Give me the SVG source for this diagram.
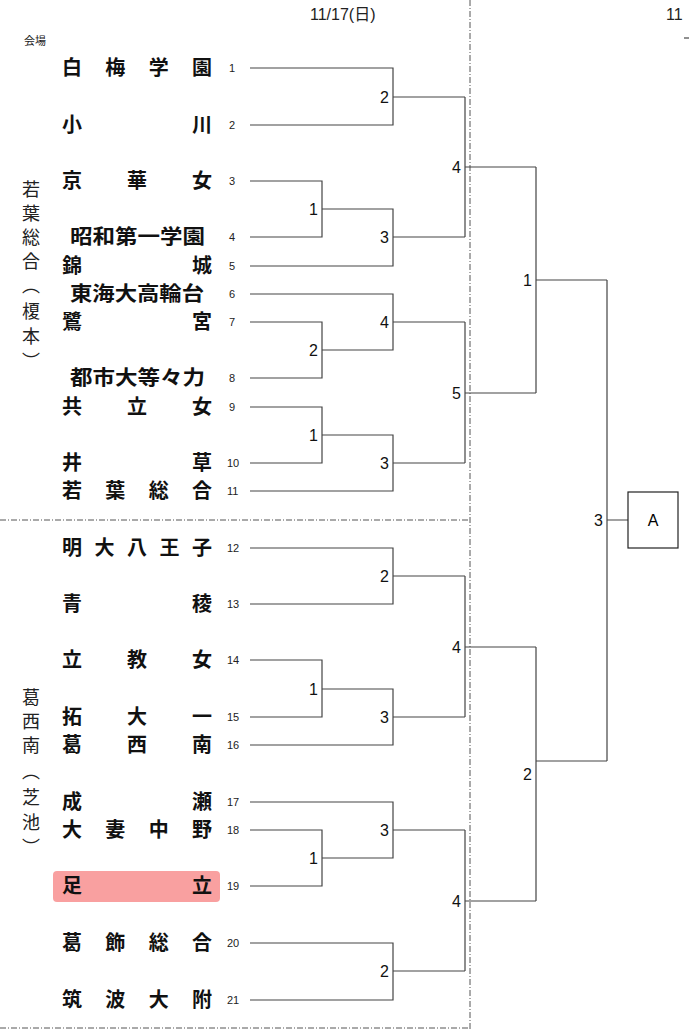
<svg xmlns="http://www.w3.org/2000/svg" width="689" height="1031" viewBox="0 0 689 1031">
<style>
.n{font-family:"Noto Sans CJK JP","Noto Sans",sans-serif;font-size:20px;font-weight:bold;fill:#111}
.s{font-family:"Liberation Sans",sans-serif;font-size:11px;fill:#222}
.r{font-family:"Liberation Sans",sans-serif;font-size:16px;fill:#111;text-anchor:end}
.v{font-family:"Noto Sans CJK JP",sans-serif;font-size:18px;fill:#222}
.c path{fill:none;stroke:#444;stroke-width:1.2}
.d{stroke:#555;stroke-width:1;stroke-dasharray:6,2,1,2;fill:none}
</style>
<rect width="689" height="1031" fill="#fff"/>
<text x="310" y="20" style="font-family:'Liberation Sans','Noto Sans CJK JP',sans-serif;font-size:16px;fill:#222">11/17(日)</text>
<text x="666" y="20" style="font-family:'Liberation Sans',sans-serif;font-size:16px;fill:#222">11</text>
<line x1="684" y1="38" x2="689" y2="38" stroke="#222"/>
<text x="24" y="45" style="font-family:'Noto Sans CJK JP',sans-serif;font-size:11px;fill:#222">会場</text>
<path class="d" d="M470 0V1031M0 520H470M0 1028H470"/>
<g id="venue1" class="v"><text x="22" y="196">若</text><text x="22" y="220">葉</text><text x="22" y="244">総</text><text x="22" y="268">合</text><text x="22" y="292">︵</text><text x="22" y="318">榎</text><text x="22" y="343">本</text><text x="22" y="368">︶</text></g>
<g id="venue2" class="v"><text x="22" y="704">葛</text><text x="22" y="728">西</text><text x="22" y="752">南</text><text x="22" y="778">︵</text><text x="22" y="804">芝</text><text x="22" y="829">池</text><text x="22" y="854">︶</text></g>
<rect x="53" y="871" width="167" height="31" rx="4" fill="#f9a0a0"/>
<g id="names" class="n">
<text x="62" y="75" textLength="150" lengthAdjust="spacing">白梅学園</text>
<text x="62" y="132" textLength="150" lengthAdjust="spacing">小川</text>
<text x="62" y="188" textLength="150" lengthAdjust="spacing">京華女</text>
<text x="70" y="244" textLength="135" lengthAdjust="spacingAndGlyphs">昭和第一学園</text>
<text x="62" y="273" textLength="150" lengthAdjust="spacing">錦城</text>
<text x="70" y="301" textLength="134" lengthAdjust="spacingAndGlyphs">東海大高輪台</text>
<text x="62" y="329" textLength="150" lengthAdjust="spacing">鷺宮</text>
<text x="70" y="385" textLength="135" lengthAdjust="spacingAndGlyphs">都市大等々力</text>
<text x="62" y="414" textLength="150" lengthAdjust="spacing">共立女</text>
<text x="62" y="470" textLength="150" lengthAdjust="spacing">井草</text>
<text x="62" y="498" textLength="150" lengthAdjust="spacing">若葉総合</text>
<text x="62" y="555" textLength="150" lengthAdjust="spacing">明大八王子</text>
<text x="62" y="611" textLength="150" lengthAdjust="spacing">青稜</text>
<text x="62" y="667" textLength="150" lengthAdjust="spacing">立教女</text>
<text x="62" y="724" textLength="150" lengthAdjust="spacing">拓大一</text>
<text x="62" y="752" textLength="150" lengthAdjust="spacing">葛西南</text>
<text x="62" y="809" textLength="150" lengthAdjust="spacing">成瀬</text>
<text x="62" y="837" textLength="150" lengthAdjust="spacing">大妻中野</text>
<text x="62" y="893" textLength="150" lengthAdjust="spacing">足立</text>
<text x="62" y="950" textLength="150" lengthAdjust="spacing">葛飾総合</text>
<text x="62" y="1007" textLength="150" lengthAdjust="spacing">筑波大附</text>
</g>
<g id="seeds" class="s">
<text x="229" y="72">1</text><text x="229" y="129">2</text><text x="229" y="185">3</text><text x="229" y="241">4</text><text x="229" y="270">5</text><text x="229" y="298">6</text><text x="229" y="326">7</text><text x="229" y="382">8</text><text x="229" y="411">9</text><text x="227" y="467">10</text><text x="227" y="495">11</text><text x="227" y="552">12</text><text x="227" y="608">13</text><text x="227" y="664">14</text><text x="227" y="721">15</text><text x="227" y="749">16</text><text x="227" y="806">17</text><text x="227" y="834">18</text><text x="227" y="890">19</text><text x="227" y="947">20</text><text x="227" y="1004">21</text>
</g>
<g id="connectors" class="c">
<path d="M250 68H393V125H250M393 97H465"/>
<path d="M250 181H322V237H250M322 209H393V266H250M393 237H465"/>
<path d="M465 97V237M465 167H536"/>
<path d="M250 294H393V350H322M250 322H322V378H250M393 322H465"/>
<path d="M250 407H322V463H250M322 435H393V491H250M393 463H465"/>
<path d="M465 322V463M465 393H536"/>
<path d="M536 167V393M536 280H607"/>
<path d="M250 548H393V604H250M393 576H465"/>
<path d="M250 660H322V717H250M322 689H393V745H250M393 717H465"/>
<path d="M465 576V717M465 647H536"/>
<path d="M250 802H393V858H322M250 830H322V886H250M393 830H465"/>
<path d="M250 943H393V1000H250M393 971H465"/>
<path d="M465 830V971M465 901H536"/>
<path d="M536 647V901M536 761H607"/>
<path d="M607 280V761M607 520H628"/>
</g>
<g id="A"><rect x="628" y="492" width="50" height="56" fill="#fff" stroke="#222" stroke-width="1.2"/><text x="653" y="526" text-anchor="middle" style="font-family:'Liberation Sans',sans-serif;font-size:16px">A</text></g>
<g id="rounds" class="r">
<text x="318" y="215">1</text><text x="318" y="356">2</text><text x="318" y="441">1</text><text x="318" y="695">1</text><text x="318" y="864">1</text>
<text x="389" y="103">2</text><text x="389" y="243">3</text><text x="389" y="328">4</text><text x="389" y="469">3</text><text x="389" y="582">2</text><text x="389" y="723">3</text><text x="389" y="836">3</text><text x="389" y="977">2</text>
<text x="461" y="173">4</text><text x="461" y="399">5</text><text x="461" y="653">4</text><text x="461" y="907">4</text>
<text x="532" y="286">1</text><text x="532" y="780">2</text>
<text x="603" y="526">3</text>
</g>
</svg>
